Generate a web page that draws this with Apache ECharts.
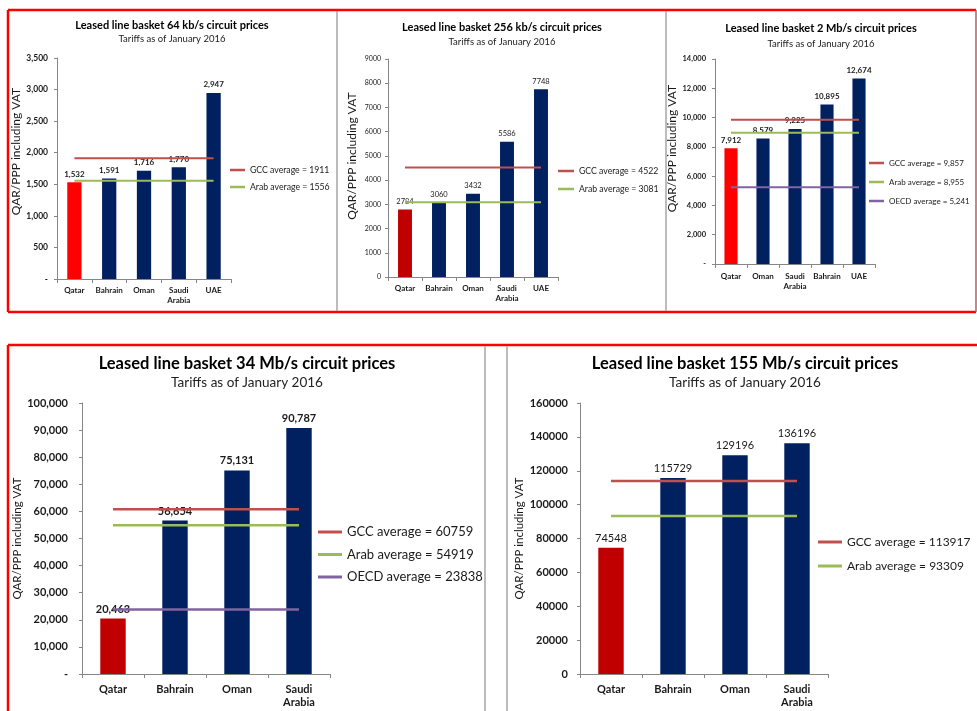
<!DOCTYPE html>
<html>
<head>
<meta charset="utf-8">
<script src="https://cdn.jsdelivr.net/npm/echarts@6/dist/echarts.min.js"></script>
<style>
  html, body { margin: 0; padding: 0; background: #fff; }
  #chart { width: 977px; height: 711px; }
</style>
</head>
<body>
<div id="chart"></div>
<script>
// 64 kb/s
const cat64 = ['Qatar', 'Bahrain', 'Oman', 'Saudi\nArabia', 'UAE'];
const price64 = [1532, 1591, 1716, 1770, 2947];
const avgName64 = ['GCC average = 1911', 'Arab average = 1556'];
const avgVal64 = [1911, 1556];
const yMax64 = 3500, yStep64 = 500;

// 256 kb/s
const cat256 = ['Qatar', 'Bahrain', 'Oman', 'Saudi\nArabia', 'UAE'];
const price256 = [2784, 3060, 3432, 5586, 7748];
const avgName256 = ['GCC average = 4522', 'Arab average = 3081'];
const avgVal256 = [4522, 3081];
const yMax256 = 9000, yStep256 = 1000;

// 2 Mb/s
const cat2m = ['Qatar', 'Oman', 'Saudi\nArabia', 'Bahrain', 'UAE'];
const price2m = [7912, 8579, 9225, 10895, 12674];
const avgName2m = ['GCC average = 9,857', 'Arab average = 8,955', 'OECD average = 5,241'];
const avgVal2m = [9857, 8955, 5241];
const yMax2m = 14000, yStep2m = 2000;

// 34 Mb/s
const cat34m = ['Qatar', 'Bahrain', 'Oman', 'Saudi\nArabia'];
const price34m = [20463, 56654, 75131, 90787];
const avgName34m = ['GCC average = 60759', 'Arab average = 54919', 'OECD average = 23838'];
const avgVal34m = [60759, 54919, 23838];
const yMax34m = 100000, yStep34m = 10000;

// 155 Mb/s
const cat155m = ['Qatar', 'Bahrain', 'Oman', 'Saudi\nArabia'];
const price155m = [74548, 115729, 129196, 136196];
const avgName155m = ['GCC average = 113917', 'Arab average = 93309'];
const avgVal155m = [113917, 93309];
const yMax155m = 160000, yStep155m = 20000;

const subTitle = 'Tariffs as of January 2016';
const yName = 'QAR/PPP including VAT';

const NAVY = '#002060';
const AVG_COLORS = ['#C0504D', '#9BBB59', '#8064A2'];
const FONT = 'Lato, "Liberation Sans", sans-serif';
const TXT = '#1a1a1a';

// nameShift moves the rotated axis name up along the axis
const panels = [
  { title: 'Leased line basket 64 kb/s circuit prices', cats: cat64, vals: price64, names: avgName64, avgs: avgVal64,
    max: yMax64, step: yStep64, comma: true, qColor: '#FF0000', bold: true, yBold: true,
    f: { title: 11, sub: 9.5, axis: 8.5, xlab: 8, data: 8, name: 12, legend: 8.7, lw: 2, itemW: 15 },
    grid: { left: 57, top: 58, width: 174, height: 221 }, cx: 172, ty: 25, sy: 39,
    nameGap: 34, nameShift: 17, yMargin: 9, xMargin: 6, lg: { left: 230, c: 170, sp: 17 } },
  { title: 'Leased line basket 256 kb/s circuit prices', cats: cat256, vals: price256, names: avgName256, avgs: avgVal256,
    max: yMax256, step: yStep256, comma: false, qColor: '#C00000', bold: false, yBold: false,
    f: { title: 11, sub: 9.5, axis: 7, xlab: 8, data: 7.5, name: 12, legend: 8.7, lw: 2, itemW: 16 },
    grid: { left: 388, top: 59, width: 170, height: 218 }, cx: 502, ty: 27, sy: 42,
    nameGap: 30, nameShift: 12, yMargin: 7, xMargin: 6, lg: { left: 558, c: 171, sp: 18 } },
  { title: 'Leased line basket 2 Mb/s circuit prices', cats: cat2m, vals: price2m, names: avgName2m, avgs: avgVal2m,
    max: yMax2m, step: yStep2m, comma: true, qColor: '#FF0000', bold: true, yBold: true,
    f: { title: 11, sub: 9.5, axis: 7.5, xlab: 8, data: 8, name: 12, legend: 8, lw: 2, itemW: 15 },
    grid: { left: 715, top: 59, width: 160, height: 205 }, cx: 821, ty: 28, sy: 44,
    nameGap: 33, nameShift: 13, yMargin: 9, xMargin: 7, lg: { left: 869, c: 163, sp: 19 } },
  { title: 'Leased line basket 34 Mb/s circuit prices', cats: cat34m, vals: price34m, names: avgName34m, avgs: avgVal34m,
    max: yMax34m, step: yStep34m, comma: true, qColor: '#C00000', bold: true, yBold: true,
    f: { title: 16.5, sub: 13.5, axis: 11, xlab: 11, data: 11, name: 11.5, legend: 13, lw: 2.5, itemW: 24 },
    grid: { left: 82, top: 403, width: 248, height: 271 }, cx: 247, ty: 364, sy: 383,
    nameGap: 56, nameShift: 0, yMargin: 14, xMargin: 9, lg: { left: 318, c: 532, sp: 22.5 } },
  { title: 'Leased line basket 155 Mb/s circuit prices', cats: cat155m, vals: price155m, names: avgName155m, avgs: avgVal155m,
    max: yMax155m, step: yStep155m, comma: false, qColor: '#C00000', bold: false, yBold: true,
    f: { title: 16.5, sub: 13.5, axis: 11, xlab: 11, data: 11, name: 11.5, legend: 12, lw: 2.5, itemW: 24 },
    grid: { left: 580, top: 403, width: 248, height: 271 }, cx: 745, ty: 364, sy: 383,
    nameGap: 55, nameShift: 0, yMargin: 12, xMargin: 9, lg: { left: 818, c: 542, sp: 24 } }
];

function fmt(v, comma) {
  return comma ? v.toLocaleString('en-US') : String(v);
}

const grids = [], xAxes = [], yAxes = [], series = [], legends = [], graphics = [];

panels.forEach(function (p, i) {
  const s = p.f;
  grids.push(p.grid);
  xAxes.push({
    type: 'category', gridIndex: i, data: p.cats,
    axisLine: { lineStyle: { color: '#868686', width: 1 } },
    axisTick: { show: true, length: 4, lineStyle: { color: '#868686' } },
    axisLabel: { color: TXT, fontFamily: FONT, fontWeight: 'bold', fontSize: s.xlab, margin: p.xMargin, lineHeight: s.xlab + 2, interval: 0 }
  });
  yAxes.push({
    type: 'value', gridIndex: i, min: 0, max: p.max, interval: p.step,
    name: yName, nameLocation: 'middle', nameGap: p.nameGap, nameRotate: 90,
    nameTextStyle: { color: TXT, fontFamily: FONT, fontSize: s.name, padding: [0, 0, 0, p.nameShift * 2] },
    axisLine: { show: true, lineStyle: { color: '#868686', width: 1 } },
    axisTick: { show: true, length: 3, lineStyle: { color: '#868686' } },
    splitLine: { show: false },
    axisLabel: {
      color: TXT, fontFamily: FONT, fontSize: s.axis, margin: p.yMargin,
      fontWeight: p.yBold ? 'bold' : 'normal',
      formatter: function (v) { return v === 0 && p.comma ? '-' : fmt(v, p.comma); }
    }
  });
  series.push({
    type: 'bar', xAxisIndex: i, yAxisIndex: i, barWidth: '41%',
    data: p.vals.map(function (v, k) {
      return { value: v, itemStyle: { color: p.cats[k] === 'Qatar' ? p.qColor : NAVY } };
    }),
    label: {
      show: true, position: 'top', distance: 4, color: TXT, fontFamily: FONT,
      fontSize: s.data, fontWeight: p.bold ? 'bold' : 'normal',
      formatter: function (d) { return fmt(d.value, p.comma); }
    },
    silent: true
  });
  p.names.forEach(function (n, k) {
    series.push({
      type: 'line', name: n, xAxisIndex: i, yAxisIndex: i, z: 5,
      data: p.cats.map(function () { return p.avgs[k]; }),
      symbol: 'none', silent: true,
      itemStyle: { color: AVG_COLORS[k] },
      lineStyle: { color: AVG_COLORS[k], width: s.lw }
    });
  });
  const lh = s.legend + 2;
  legends.push({
    data: p.names, orient: 'vertical', left: p.lg.left, top: p.lg.c - lh / 2,
    itemWidth: s.itemW, itemHeight: s.lw + 0.5, icon: 'rect', itemGap: p.lg.sp - lh,
    padding: 0, selectedMode: false,
    textStyle: { color: TXT, fontFamily: FONT, fontSize: s.legend, lineHeight: lh }
  });
  graphics.push({
    type: 'text', x: p.cx, y: p.ty,
    style: { text: p.title, fill: '#000', font: 'bold ' + s.title + 'px ' + FONT, textAlign: 'center', textVerticalAlign: 'middle' }
  });
  graphics.push({
    type: 'text', x: p.cx, y: p.sy,
    style: { text: subTitle, fill: '#222', font: s.sub + 'px ' + FONT, textAlign: 'center', textVerticalAlign: 'middle' }
  });
});

// frames round the panels
function seg(x1, y1, x2, y2, color, w) {
  graphics.push({ type: 'line', shape: { x1: x1, y1: y1, x2: x2, y2: y2 }, style: { stroke: color, lineWidth: w }, silent: true });
}
seg(8, 10, 976, 10, '#FF0000', 2.5);
seg(8, 312, 976, 312, '#FF0000', 2.5);
seg(8, 10, 8, 312, '#FF0000', 2.5);
seg(976, 10, 976, 312, '#B06060', 1.5);
seg(337, 11, 337, 311, '#A6A6A6', 1.5);
seg(666, 11, 666, 311, '#A6A6A6', 1.5);
seg(8, 345, 977, 345, '#FF0000', 2.5);
seg(8, 345, 8, 711, '#FF0000', 2.5);
seg(485, 346, 485, 711, '#A6A6A6', 1.5);
seg(507, 346, 507, 711, '#A6A6A6', 1.5);

const chart = echarts.init(document.getElementById('chart'));
chart.setOption({
  animation: false,
  backgroundColor: '#fff',
  grid: grids,
  xAxis: xAxes,
  yAxis: yAxes,
  legend: legends,
  series: series,
  graphic: graphics
});
</script>
</body>
</html>
